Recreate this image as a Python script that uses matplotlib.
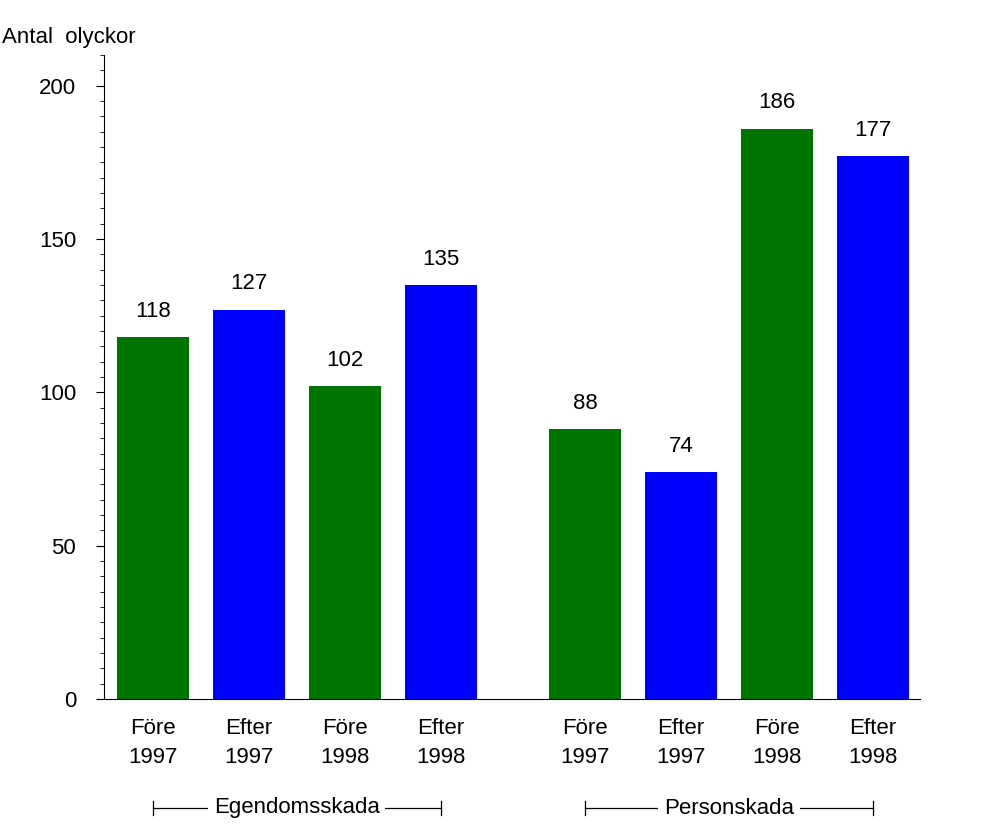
import matplotlib
matplotlib.use("Agg")
import matplotlib.pyplot as plt
from matplotlib.ticker import MultipleLocator
import matplotlib.transforms as mt

categories = ["Före\n1997", "Efter\n1997", "Före\n1998", "Efter\n1998",
              "Före\n1997", "Efter\n1997", "Före\n1998", "Efter\n1998"]
values = [118, 127, 102, 135, 88, 74, 186, 177]
colors = ["#007400", "#0000FF"] * 4
groups = ["Egendomsskada", "Personskada"]
positions = [0, 1, 2, 3, 4.5, 5.5, 6.5, 7.5]

plt.rcParams["font.family"] = "Liberation Sans"
fig = plt.figure(figsize=(9.92, 8.32), dpi=100)
ax = fig.add_axes([104/992, 1-699/832, (920-104)/992, (699-55)/832])
ax.bar(positions, values, width=0.75, color=colors)
for x, v in zip(positions, values):
    ax.text(x, v + 5, str(v), ha="center", va="bottom", fontsize=16)
ax.set_xlim(-0.51, 7.99)
ax.set_ylim(0, 210)
ax.set_xticks(positions)
ax.set_xticklabels(categories, fontsize=16, linespacing=1.5)
ax.tick_params(axis="x", length=0, pad=14)
ax.yaxis.set_major_locator(MultipleLocator(50))
ax.yaxis.set_minor_locator(MultipleLocator(5))
ax.set_yticks([0, 50, 100, 150, 200])
ax.tick_params(axis="y", labelsize=16, direction="out", length=6, pad=14)
ax.tick_params(axis="y", which="minor", length=3)
for s in ["top", "right"]:
    ax.spines[s].set_visible(False)
ax.spines["left"].set_bounds(0, 210)
fig.text(2/992, 1-37/832, "Antal  olyckor", fontsize=16, va="center", ha="left")

trans = mt.blended_transform_factory(ax.transData, fig.transFigure)
yb = 1 - 808/832
for g, (a, b) in zip(groups, [(0, 3), (4.5, 7.5)]):
    mid = (a + b) / 2
    ax.text(mid, yb, g, transform=trans, ha="center", va="center", fontsize=16,
            bbox=dict(facecolor="white", edgecolor="none", pad=4), zorder=3)
    ax.plot([a, b], [yb, yb], transform=trans, color="black", lw=0.9, clip_on=False, zorder=2)
    for e in (a, b):
        ax.plot([e, e], [yb - 0.008, yb + 0.008], transform=trans, color="black", lw=0.9, clip_on=False)

fig.savefig("out.png", dpi=100)
